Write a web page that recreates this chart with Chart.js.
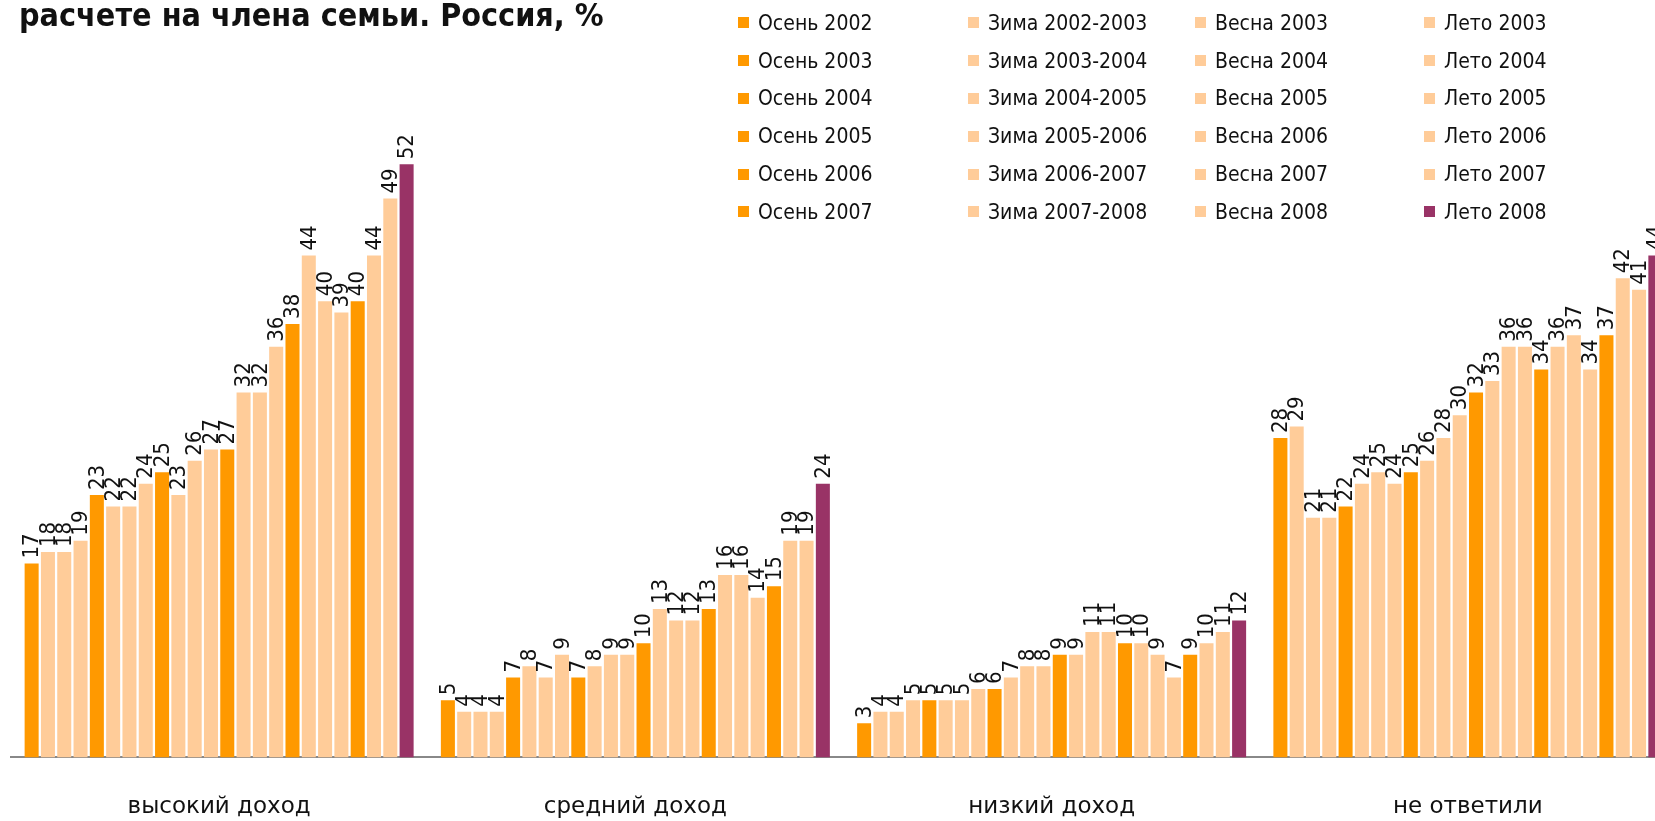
<!DOCTYPE html>
<html>
<head>
<meta charset="utf-8">
<script src="https://cdn.jsdelivr.net/npm/chart.js@4.4.1/dist/chart.umd.min.js"></script>
<style>
  html, body { margin: 0; padding: 0; background: #fff; overflow: hidden; width: 1655px; height: 821px; }
  #wrap { position: absolute; left: 0; top: 0; width: 1680px; height: 857px; }
  #title { position: absolute; left: 19px; top: -5px; font: bold 32px "DejaVu Sans Condensed", "DejaVu Sans", sans-serif; color: #111; white-space: nowrap; line-height: 40px; }
  #legend { position: absolute; left: 738px; top: 4px; display: grid; grid-template-columns: 230px 227px 229px 200px; grid-auto-rows: 37.8px; font: 21px "DejaVu Sans Condensed", "DejaVu Sans", sans-serif; color: #111; }
  #legend div { display: flex; align-items: center; white-space: nowrap; }
  #legend span.box { display: inline-block; width: 11px; height: 11px; margin-right: 9px; }
</style>
</head>
<body>
<div id="wrap"><canvas id="chart" width="1680" height="857"></canvas></div>
<div id="title">расчете на члена семьи. Россия, %</div>
<div id="legend"></div>
<script>
var categories = ['высокий доход', 'средний доход', 'низкий доход', 'не ответили']

var seriesNames = [
  'Осень 2002', 'Зима 2002-2003', 'Весна 2003', 'Лето 2003',
  'Осень 2003', 'Зима 2003-2004', 'Весна 2004', 'Лето 2004',
  'Осень 2004', 'Зима 2004-2005', 'Весна 2005', 'Лето 2005',
  'Осень 2005', 'Зима 2005-2006', 'Весна 2006', 'Лето 2006',
  'Осень 2006', 'Зима 2006-2007', 'Весна 2007', 'Лето 2007',
  'Осень 2007', 'Зима 2007-2008', 'Весна 2008', 'Лето 2008',
]

// values per category, in the order of seriesNames
var highIncome = [17, 18, 18, 19, 23, 22, 22, 24, 25, 23, 26, 27, 27, 32, 32, 36, 38, 44, 40, 39, 40, 44, 49, 52]
var midIncome = [5, 4, 4, 4, 7, 8, 7, 9, 7, 8, 9, 9, 10, 13, 12, 12, 13, 16, 16, 14, 15, 19, 19, 24]
var lowIncome = [3, 4, 4, 5, 5, 5, 5, 6, 6, 7, 8, 8, 9, 9, 11, 11, 10, 10, 9, 7, 9, 10, 11, 12]
var noAnswer = [28, 29, 21, 21, 22, 24, 25, 24, 25, 26, 28, 30, 32, 33, 36, 36, 34, 36, 37, 34, 37, 42, 41, 44]

var autumnColor = 'rgb(255, 153, 0)'
var otherColor = 'rgb(255, 204, 153)'
var lastColor = 'rgb(153, 51, 102)'

function colorFor(name, i) {
  if (i === seriesNames.length - 1) return lastColor
  if (name.indexOf('Осень') === 0) return autumnColor
  return otherColor
}

var table = [highIncome, midIncome, lowIncome, noAnswer]
var datasets = seriesNames.map(function (name, i) {
  return {
    label: name,
    data: table.map(function (row) { return row[i] }),
    backgroundColor: colorFor(name, i),
    borderWidth: 0,
    categoryPercentage: 0.94,
    barPercentage: 0.86,
  }
})

// legend, 4 per row like the original
var legendEl = document.getElementById('legend')
seriesNames.forEach(function (name, i) {
  var d = document.createElement('div')
  var b = document.createElement('span')
  b.className = 'box'
  b.style.background = colorFor(name, i)
  d.appendChild(b)
  d.appendChild(document.createTextNode(name))
  legendEl.appendChild(d)
})

// rotated value labels above the bars
const valueLabels = {
  id: 'valueLabels',
  afterDatasetsDraw(chart) {
    const ctx = chart.ctx
    ctx.save()
    ctx.font = '22px "DejaVu Sans Condensed", "DejaVu Sans", sans-serif'
    ctx.fillStyle = '#111'
    ctx.textAlign = 'left'
    ctx.textBaseline = 'middle'
    chart.data.datasets.forEach(function (ds, i) {
      chart.getDatasetMeta(i).data.forEach(function (bar, j) {
        ctx.save()
        ctx.translate(bar.x + 1, bar.y - 5)
        ctx.rotate(-Math.PI / 2)
        ctx.fillText(String(Math.round(ds.data[j])), 0, 0)
        ctx.restore()
      })
    })
    ctx.restore()
  },
}

var chart = new Chart(document.getElementById('chart').getContext('2d'), {
  type: 'bar',
  data: { labels: categories, datasets: datasets },
  options: {
    responsive: false,
    animation: false,
    layout: { padding: { left: 11, right: 4, top: 0, bottom: 0 } },
    plugins: { legend: { display: false }, tooltip: { enabled: false }, title: { display: false } },
    scales: {
      x: {
        grid: { display: false, drawTicks: false },
        border: { display: true, color: '#888', width: 2 },
        ticks: { color: '#111', padding: 36, font: { family: '"DejaVu Sans", sans-serif', size: 23 } },
      },
      y: { display: false, min: 0, max: 66.4 },
    },
  },
  plugins: [valueLabels],
})
</script>
</body>
</html>
